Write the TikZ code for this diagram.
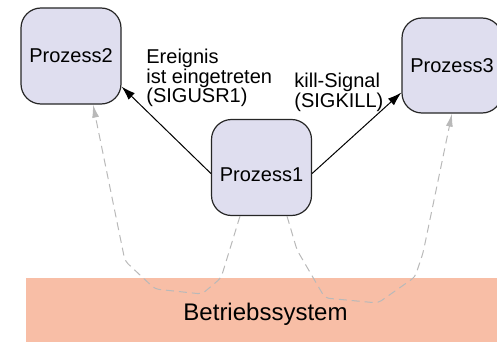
\documentclass[tikz,border=0pt]{standalone}
\usepackage{fontspec}
\setmainfont{Liberation Sans}
\usetikzlibrary{arrows.meta,calc,positioning}

\begin{document}
\begin{tikzpicture}[
  x={(0.5pt,0pt)},
  y={(0pt,-0.5pt)},
  >=Latex,
  proc/.style={draw=black!85, line width=0.6pt, fill=procfill, rounded corners=10pt,
    minimum width=50pt, minimum height=48pt, inner sep=0pt,
    font=\fontsize{10}{12}\selectfont},
  osbox/.style={fill=osfill, minimum width=239.5pt, minimum height=36pt, inner sep=0pt,
    font=\fontsize{12}{14}\selectfont},
  signal/.style={-{Latex[length=7pt,width=4.5pt]}, line width=0.5pt},
  sysline/.style={-{Latex[length=6.5pt,width=3.5pt]}, draw=sysgray, line width=0.5pt,
    dash pattern=on 4pt off 2.5pt, rounded corners=2pt},
  note/.style={align=left, anchor=north west, inner sep=0pt,
    font=\fontsize{10}{9.6}\selectfont}
]
  \definecolor{procfill}{RGB}{223,222,239}
  \definecolor{osfill}{RGB}{248,190,166}
  \definecolor{sysgray}{RGB}{185,185,185}

  \useasboundingbox (0,0) rectangle (497,342);

  % Betriebssystem at the bottom (runs off the right and lower edge)
  \node[osbox] (bs) at (265.5,314) {Betriebssystem};

  % the three processes
  \node[proc] (p2) at (71,56) {Prozess2};
  \node[proc, minimum height=47.5pt] (p3) at (452,65.5) {Prozess3};
  \node[proc, text height=14pt] (p1) at (261.5,167.5) {Prozess1};

  % signals sent by Prozess1
  \draw[signal] ([yshift=-3pt]p1.west) -- ([yshift=-15.3pt]p2.east);
  \draw[signal] ([yshift=-3pt]p1.east) -- ([yshift=-13.5pt]p3.west);

  \node[note] (ev) at (146,49) {Ereignis\\ist eingetreten\\(SIGUSR1)};
  \node[note] (kill) at (294,73) {kill-Signal\\(SIGKILL)};

  % the real path of a signal: through the Betriebssystem
  \draw[sysline] ([xshift=-10.75pt]p1.south) -- (221,278) -- (202,294) -- (155,289)
    -- (125,261) -- ([xshift=11pt]p2.south);
  \draw[sysline] ([xshift=12.75pt]p1.south) -- (297,250) -- (325,298) -- (378,303)
    -- (415,277) -- (423,253) -- (p3.south);
\end{tikzpicture}
\end{document}
